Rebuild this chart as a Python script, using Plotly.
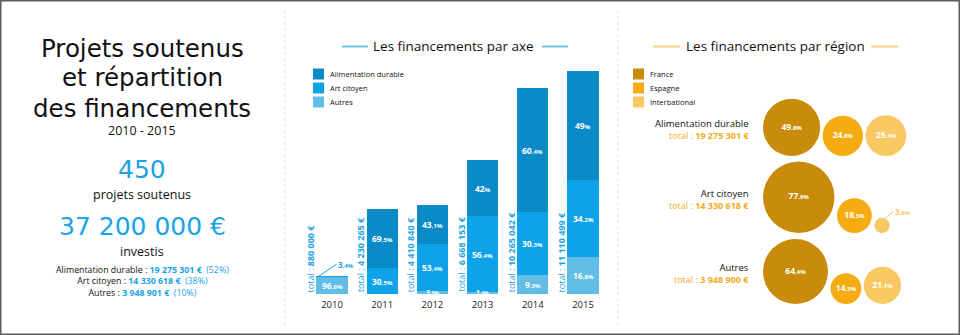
import math
import plotly.graph_objects as go

W, H = 960, 335
FONT = "Open Sans"
HEAD_FONT = "DejaVu Sans"
BLUE_TXT = "#1aa3e6"
GOLD_TXT = "#f0ab1c"

# ---- summary panel -------------------------------------------------------
title_lines = ["Projets soutenus", "et répartition", "des financements"]
period = "2010 - 2015"
projects_count = "450"
invested = "37 200 000 €"
summary_names = ["Alimentation durable", "Art citoyen", "Autres"]
summary_amounts = ["19 275 301 €", "14 330 618 €", "3 948 901 €"]
summary_shares = ["52%", "38%", "10%"]

# ---- funding per axis (stacked bars) --------------------------------------
years = ["2010", "2011", "2012", "2013", "2014", "2015"]
totals = [880000, 4230265, 4410840, 6668153, 10265042, 11110499]
total_labels = ["880 000 €", "4 230 265 €", "4 410 840 €", "6 668 153 €",
                "10 265 042 €", "11 110 499 €"]
axis_names = ["Autres", "Art citoyen", "Alimentation durable"]   # bottom -> top
pct_autres = [96.6, 0.0, 3.5, 1.6, 9.3, 16.8]
pct_art = [3.4, 30.5, 53.4, 56.4, 30.3, 34.2]
pct_alim = [0.0, 69.5, 43.1, 42.0, 60.4, 49.0]
axis_colors = ["#62bde6", "#0ea2e8", "#0a8bc8"]

# ---- funding per region (bubbles) -----------------------------------------
region_rows = ["Alimentation durable", "Art citoyen", "Autres"]
region_row_totals = ["19 275 301 €", "14 330 618 €", "3 948 900 €"]
regions = ["France", "Espagne", "Interbational"]
share_france = [49.8, 77.9, 64.4]
share_espagne = [24.8, 18.5, 14.5]
share_inter = [25.4, 3.6, 21.1]
region_colors = ["#c98b0b", "#f5ab12", "#f8c862"]


def px(x):
    return x / W


def py(y):
    return 1 - y / H


def pct_text(v, small=6):
    s = f"{v:.1f}".replace(".", ",")
    if s.endswith(",0"):
        s = s[:-2]
    head, _, tail = s.partition(",")
    rest = ("," + tail if tail else "") + "%"
    return f"<b>{head}</b><span style='font-size:{small}px'><b>{rest}</b></span>"


def label(x, y, text, size, color="#111", family=FONT, xanchor="center",
          yanchor="middle", align="center"):
    return dict(x=px(x), y=py(y), xref="paper", yref="paper", text=text,
                showarrow=False, xanchor=xanchor, yanchor=yanchor, align=align,
                font=dict(family=family, size=size, color=color))


fig = go.Figure()
ann = []
shapes = []

# ---------------- bars ----------------
xs = list(range(len(years)))
series = [pct_autres, pct_art, pct_alim]
for name, pcts, col in zip(axis_names, series, axis_colors):
    fig.add_trace(go.Bar(
        x=xs, y=[t * p / 100 for t, p in zip(totals, pcts)],
        name=name, marker=dict(color=col, line=dict(width=0)),
        width=0.62, showlegend=False, hoverinfo="skip",
        xaxis="x", yaxis="y"))

for i in xs:
    base = 0.0
    segs = [pct_autres[i], pct_art[i], pct_alim[i]]
    top_idx = max(k for k in range(3) if segs[k] > 0)
    for k, p in enumerate(segs):
        if p <= 0:
            continue
        v = totals[i] * p / 100
        if k == top_idx and p < 5:
            # tiny top segment: callout with leader line
            ann.append(dict(x=i - 0.27, y=base + v, xref="x", yref="y",
                            text=pct_text(p), showarrow=True, arrowhead=0,
                            arrowwidth=1, arrowcolor=BLUE_TXT, ax=18, ay=-12,
                            xanchor="left", yanchor="middle",
                            font=dict(family=FONT, size=8, color=BLUE_TXT)))
        else:
            small_seg = p < 5
            ann.append(dict(x=i, y=base + v / 2, xref="x", yref="y",
                            text=pct_text(p, 5 if small_seg else 6), showarrow=False,
                            xanchor="center", yanchor="middle",
                            font=dict(family=FONT, size=7 if small_seg else 8.5,
                                      color="white")))
        base += v
    ann.append(dict(x=i - 0.43, y=0, xref="x", yref="y", textangle=-90,
                    text=f"total : <b>{total_labels[i]}</b>", showarrow=False,
                    xanchor="center", yanchor="bottom",
                    font=dict(family=FONT, size=9, color=BLUE_TXT)))

# ---------------- bubbles ----------------
K = 4.05          # radius per sqrt(percent)
GAP = 2.5
row_left = 763
row_base = [156, 233, 304]
shares = [share_france, share_espagne, share_inter]
cx = [[0] * 3 for _ in range(3)]
rr = [[0] * 3 for _ in range(3)]
for r in range(3):
    x = row_left
    for g in range(3):
        rad = K * math.sqrt(shares[g][r])
        cx[r][g] = x + rad
        rr[r][g] = rad
        x += 2 * rad + GAP

for g in range(3):
    texts = []
    for r in range(3):
        texts.append(pct_text(shares[g][r]) if shares[g][r] >= 8 else "")
    fig.add_trace(go.Scatter(
        x=[cx[r][g] for r in range(3)],
        y=[row_base[r] - rr[r][g] for r in range(3)],
        mode="markers+text", name=regions[g],
        marker=dict(size=[2 * rr[r][g] for r in range(3)], sizemode="diameter",
                    color=region_colors[g], line=dict(width=0), opacity=1),
        text=texts, textposition="middle center",
        textfont=dict(family=FONT, size=8.5, color="white"),
        showlegend=False, hoverinfo="skip", xaxis="x2", yaxis="y2"))
    for r in range(3):
        if shares[g][r] < 8:
            ann.append(dict(x=cx[r][g] + rr[r][g] * 0.3, y=row_base[r] - 2 * rr[r][g] + 1,
                            xref="x2", yref="y2", text=pct_text(shares[g][r]),
                            showarrow=True, arrowhead=0, arrowwidth=1,
                            arrowcolor=region_colors[g], ax=9, ay=-7,
                            xanchor="left", yanchor="middle",
                            font=dict(family=FONT, size=8, color=region_colors[g])))

for r in range(3):
    yc = row_base[r] - rr[r][0]
    ann.append(label(751, yc + 2.5,
                     (f"{region_rows[r]}<br><span style='font-size:9px;color:{GOLD_TXT}'>"
                      f"total : <b>{region_row_totals[r]}</b></span>"),
                     9.5, xanchor="right", align="right"))

# ---------------- left summary panel ----------------
CX = 142
for yy, line in zip([48, 78, 108], title_lines):
    ann.append(label(CX, yy, line, 24.5, family=HEAD_FONT))
ann.append(label(CX, 131, period, 12.5))
ann.append(label(CX, 169, projects_count, 25, color=BLUE_TXT, family=HEAD_FONT))
ann.append(label(CX, 194.5, "projets soutenus", 12.5))
ann.append(label(CX, 226.5, invested, 25, color=BLUE_TXT, family=HEAD_FONT))
ann.append(label(CX, 251.5, "investis", 12.5))
summary_block = "<br>".join(
    f"{n} : <b><span style='color:{BLUE_TXT}'>{a}</span></b>"
    f"  <span style='color:{BLUE_TXT}'>({s})</span>"
    for n, a, s in zip(summary_names, summary_amounts, summary_shares))
ann.append(label(CX, 281, summary_block, 8.8))

# ---------------- panel titles + legends ----------------
panel_titles = [("Les financements par axe", 453, "#6cc6e8", (342, 368), (542, 568)),
                ("Les financements par région", 775.5, "#f6d27a", (653, 680), (871, 898))]
for text, xc, col, l1, l2 in panel_titles:
    ann.append(label(xc, 46.5, text, 13.5))
    for a, b in (l1, l2):
        shapes.append(dict(type="line", xref="paper", yref="paper",
                           x0=px(a), x1=px(b), y0=py(46.5), y1=py(46.5),
                           line=dict(color=col, width=2)))

for names, cols, x0 in ((axis_names[::-1], axis_colors[::-1], 313),
                        (regions, region_colors, 633)):
    for j, (n, c) in enumerate(zip(names, cols)):
        yc = 74 + 14 * j
        shapes.append(dict(type="rect", xref="paper", yref="paper",
                           x0=px(x0), x1=px(x0 + 11), y0=py(yc - 5.5), y1=py(yc + 5.5),
                           fillcolor=c, line=dict(width=0)))
        ann.append(label(x0 + 15, yc, n, 7.5, xanchor="left"))

# separators and frame
for xs_ in (285, 618):
    shapes.append(dict(type="line", xref="paper", yref="paper", x0=px(xs_), x1=px(xs_),
                       y0=py(10), y1=py(325), line=dict(color="#e2e2e2", width=1, dash="dot")))
shapes.append(dict(type="rect", xref="paper", yref="paper", x0=0, x1=1, y0=0, y1=1,
                   line=dict(color="#5a5a5a", width=3)))

px_per_unit = 223 / totals[-1]
fig.update_layout(
    width=W, height=H, margin=dict(l=0, r=0, t=0, b=0),
    paper_bgcolor="white", plot_bgcolor="rgba(0,0,0,0)",
    barmode="stack", showlegend=False,
    xaxis=dict(domain=[px(306.9), px(608.1)], range=[-0.5, 5.5],
               tickvals=xs, ticktext=years, showgrid=False, zeroline=False,
               showline=False, ticks="", fixedrange=True, ticklabelstandoff=3,
               tickfont=dict(family=FONT, size=9.5, color="#222")),
    yaxis=dict(domain=[1 - 294 / H, 1 - 60 / H], range=[0, 234 / px_per_unit],
               visible=False, fixedrange=True),
    xaxis2=dict(domain=[0, 1], range=[0, W], visible=False, anchor="y2", fixedrange=True),
    yaxis2=dict(domain=[0, 1], range=[H, 0], visible=False, anchor="x2", fixedrange=True),
    annotations=ann, shapes=shapes,
)

fig.write_html("out.html")
